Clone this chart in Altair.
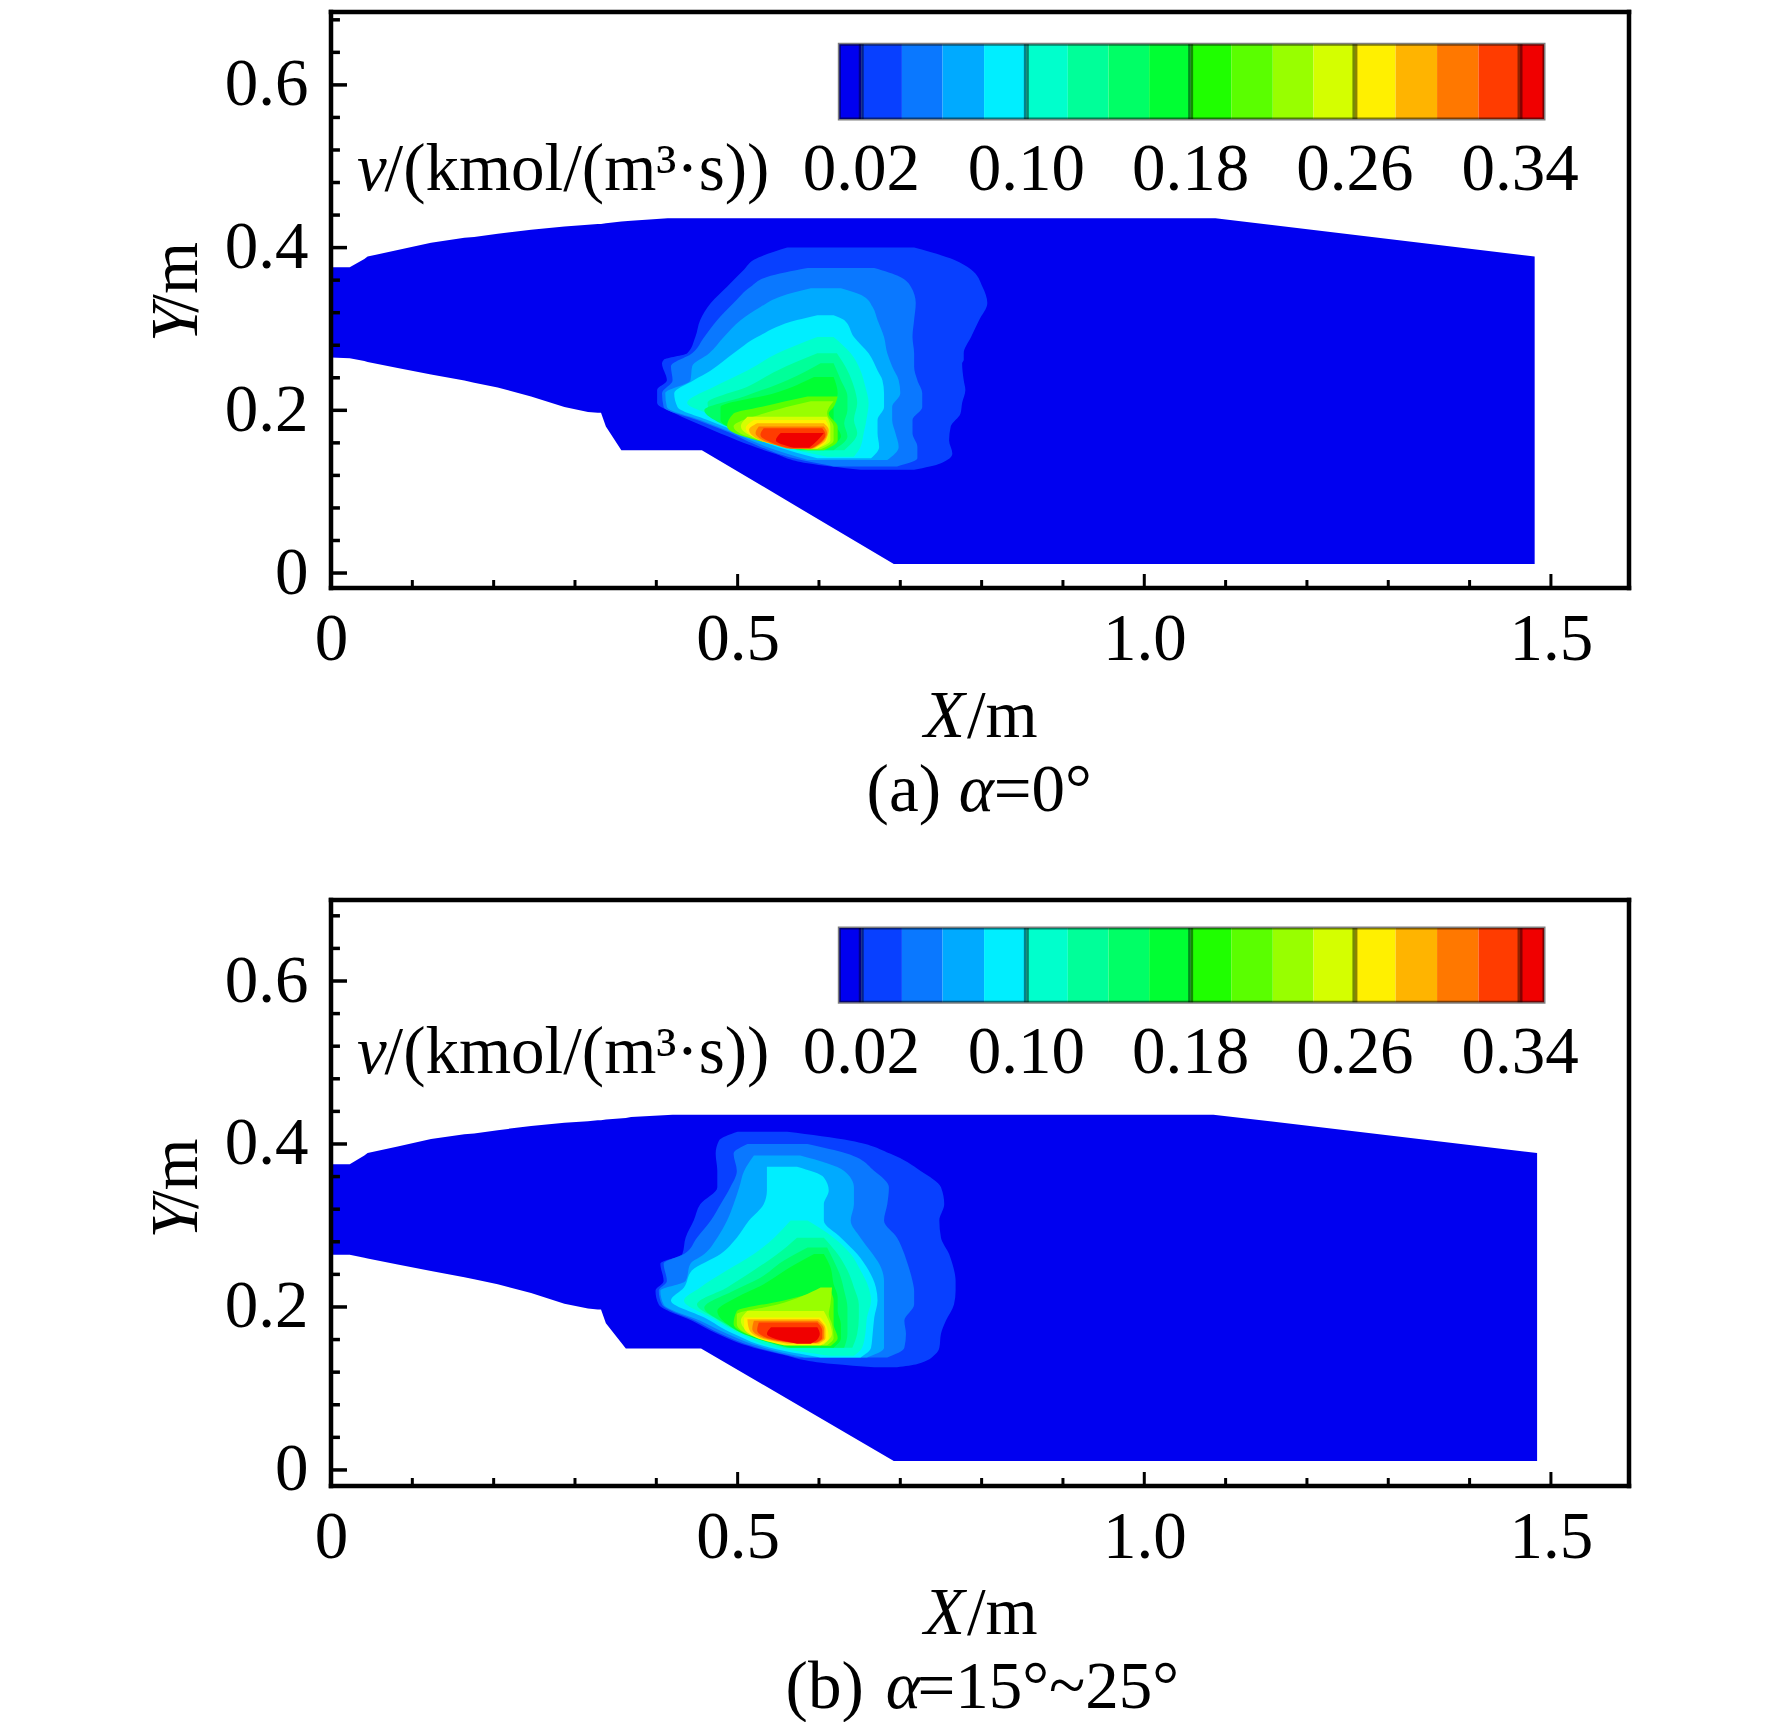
import altair as alt
import pandas as pd

FONT = "Liberation Serif"
FS = 67

# flow domain, panel (a): x, lower wall, upper wall
DOM_A_X = [0, .023, .041, .045, .082, .123, .164, .176, .205, .246, .287, .316, .328, .332, .338, .357, .369, .414, .456, .692, 1.0875, 1.48]
DOM_A_LO = [.265, .264, .2605, .2595, .252, .244, .2365, .234, .228, .217, .204, .198, .197, .197, .180, .151, .151, .151, .151, .011, .011, .011]
DOM_A_HI = [.376, .376, .386, .389, .397, .406, .412, .413, .417, .422, .426, .428, .429, .429, .430, .432, .433, .436, .436, .436, .436, .389]
# flow domain, panel (b)
DOM_B_X = [0, .023, .041, .045, .082, .123, .164, .176, .205, .246, .287, .316, .328, .332, .338, .3625, .369, .42, .455, .692, 1.085, 1.483]
DOM_B_LO = [.264, .264, .2605, .2595, .252, .244, .2365, .234, .228, .217, .204, .198, .197, .197, .180, .149, .149, .149, .149, .011, .011, .011]
DOM_B_HI = [.375, .375, .386, .389, .397, .406, .412, .413, .417, .422, .426, .428, .429, .429, .430, .432, .433, .436, .436, .436, .436, .389]

# colour bar
BAR_EDGES = [.625, .652, .702, .752, .803, .855, .906, .956, 1.006, 1.057, 1.107, 1.158, 1.208, 1.259, 1.309, 1.360, 1.411, 1.462, 1.4915]
BAR_COLORS = ["#0000f0", "#0840ff", "#0a78ff", "#00aaff", "#00eeff", "#00ffcc", "#00ff99", "#00ff66", "#00ff33",
              "#1fff00", "#5aff00", "#98ff00", "#d4ff00", "#fff000", "#ffb400", "#ff7800", "#ff3c00", "#f00000"]
BAR_TICKS = [.652, .855, 1.057, 1.259, 1.462]
BAR_LABELS = ["0.02", "0.10", "0.18", "0.26", "0.34"]

LEVEL_COLORS = BAR_COLORS[1:9] + BAR_COLORS[10:]

# contour outlines: (y, x left, x right)
A01 = [(.400,.561,.717),(.385,.520,.766),(.373,.508,.787),(.352,.487,.801),(.332,.467,.807),(.311,.454,.797),(.290,.448,.787),(.270,.438,.778),(.262,.409,.778),(.258,.407,.776),(.237,.413,.778),(.225,.401,.780),(.209,.401,.776),(.196,.423,.774),(.180,.459,.762),(.163,.500,.760),(.147,.545,.764),(.135,.586,.750),(.127,.651,.717)]
A02 = [(.375,.586,.668),(.364,.536,.700),(.352,.516,.713),(.332,.495,.719),(.311,.475,.717),(.290,.459,.715),(.270,.444,.717),(.254,.418,.717),(.237,.420,.721),(.221,.407,.727),(.204,.409,.727),(.188,.450,.715),(.172,.491,.715),(.155,.528,.721),(.141,.569,.721),(.131,.618,.696)]
A03 = [(.350,.590,.627),(.340,.553,.655),(.327,.528,.666),(.311,.504,.672),(.290,.483,.680),(.270,.465,.684),(.254,.444,.690),(.237,.442,.698),(.221,.411,.700),(.204,.413,.690),(.188,.454,.690),(.172,.495,.694),(.155,.536,.698),(.139,.586,.684)]
A04 = [(.317,.598,.618),(.311,.573,.631),(.290,.524,.643),(.270,.495,.661),(.249,.467,.672),(.237,.446,.678),(.221,.422,.680),(.204,.426,.680),(.188,.463,.672),(.172,.504,.672),(.155,.549,.674),(.141,.598,.664)]
A05 = [(.290,.598,.618),(.270,.549,.639),(.249,.512,.651),(.229,.471,.657),(.209,.438,.661),(.192,.475,.659),(.172,.516,.655),(.155,.557,.651),(.143,.610,.643)]
A06 = [(.270,.598,.622),(.249,.549,.635),(.229,.512,.643),(.209,.463,.647),(.188,.475,.643),(.172,.520,.647),(.151,.573,.631)]
A07 = [(.258,.602,.618),(.237,.561,.627),(.217,.508,.635),(.200,.459,.635),(.184,.479,.631),(.168,.520,.635),(.151,.577,.618)]
A08 = [(.241,.594,.618),(.221,.545,.623),(.204,.479,.618),(.188,.479,.618),(.168,.520,.627),(.153,.577,.610)]
A09 = [(.217,.586,.623),(.204,.528,.618),(.196,.495,.612),(.180,.487,.623),(.163,.524,.623),(.151,.586,.606)]
A10 = [(.211,.590,.618),(.196,.532,.610),(.180,.495,.618),(.163,.528,.618),(.152,.586,.602)]
A11 = [(.192,.512,.610),(.180,.504,.614),(.163,.532,.614),(.153,.577,.598)]
A12 = [(.188,.520,.608),(.178,.510,.612),(.163,.528,.610),(.153,.569,.598)]
A13 = [(.184,.524,.606),(.176,.514,.612),(.163,.528,.608),(.153,.569,.594)]
A14 = [(.180,.526,.606),(.172,.522,.610),(.161,.536,.604),(.153,.561,.592)]
A15 = [(.178,.532,.604),(.170,.528,.608),(.159,.545,.600),(.153,.565,.590)]
A16 = [(.172,.553,.606),(.163,.547,.598),(.154,.569,.588)]

B01 = [(.415,.500,.561),(.404,.477,.639),(.388,.473,.688),(.367,.475,.725),(.347,.475,.750),(.326,.454,.754),(.306,.446,.748),(.285,.436,.750),(.265,.432,.760),(.253,.405,.764),(.232,.409,.768),(.220,.399,.768),(.203,.403,.766),(.183,.444,.756),(.167,.475,.750),(.150,.520,.748),(.142,.553,.743),(.130,.618,.721),(.126,.668,.696)]
B02 = [(.400,.512,.586),(.388,.495,.635),(.367,.499,.668),(.347,.491,.686),(.326,.479,.684),(.306,.467,.680),(.285,.450,.696),(.265,.434,.705),(.253,.409,.709),(.232,.413,.715),(.220,.403,.717),(.203,.407,.717),(.183,.448,.705),(.167,.479,.707),(.150,.524,.705),(.138,.573,.684)]
B03 = [(.386,.520,.577),(.367,.508,.631),(.347,.502,.643),(.326,.495,.643),(.306,.487,.639),(.285,.475,.651),(.265,.459,.666),(.253,.442,.674),(.232,.436,.680),(.220,.405,.680),(.203,.409,.680),(.183,.454,.680),(.167,.487,.680),(.150,.532,.680),(.138,.582,.659)]
B04 = [(.372,.536,.573),(.359,.536,.606),(.343,.536,.612),(.326,.532,.606),(.306,.514,.606),(.285,.499,.627),(.265,.479,.647),(.245,.444,.661),(.224,.434,.670),(.208,.418,.672),(.187,.459,.668),(.167,.495,.666),(.150,.540,.664),(.138,.602,.651)]
B05 = [(.306,.565,.586),(.285,.545,.618),(.265,.520,.639),(.245,.487,.651),(.224,.454,.661),(.208,.434,.664),(.187,.467,.659),(.167,.504,.657),(.150,.549,.653),(.140,.614,.643)]
B06 = [(.285,.573,.606),(.265,.549,.623),(.245,.520,.635),(.224,.487,.643),(.203,.450,.649),(.187,.471,.649),(.167,.508,.647),(.150,.557,.641)]
B07 = [(.273,.586,.610),(.257,.557,.618),(.236,.528,.627),(.220,.495,.631),(.199,.459,.635),(.183,.479,.635),(.167,.512,.635),(.150,.561,.631)]
B08 = [(.265,.594,.606),(.249,.565,.614),(.228,.532,.618),(.212,.499,.623),(.195,.475,.623),(.179,.487,.627),(.162,.520,.627),(.150,.565,.618)]
B09 = [(.220,.602,.614),(.208,.557,.618),(.195,.499,.618),(.179,.495,.618),(.162,.524,.623),(.152,.561,.614)]
B10 = [(.224,.602,.616),(.203,.549,.614),(.191,.499,.612),(.179,.499,.616),(.162,.524,.618),(.153,.565,.610)]
B11 = [(.195,.512,.606),(.183,.504,.612),(.167,.516,.616),(.154,.561,.606)]
B12 = [(.187,.508,.602),(.175,.508,.610),(.162,.524,.612),(.153,.557,.602)]
B13 = [(.185,.512,.600),(.173,.514,.608),(.162,.528,.608),(.155,.561,.600)]
B14 = [(.183,.520,.598),(.173,.518,.606),(.162,.532,.606),(.156,.565,.598)]
B15 = [(.181,.526,.598),(.171,.524,.604),(.162,.536,.604),(.156,.569,.596)]
B16 = [(.175,.541,.598),(.167,.536,.601),(.160,.549,.598),(.155,.573,.590)]

LEVELS_A = [A01,A02,A03,A04,A05,A06,A07,A08,A09,A10,A11,A12,A13,A14,A15,A16]
LEVELS_B = [B01,B02,B03,B04,B05,B06,B07,B08,B09,B10,B11,B12,B13,B14,B15,B16]

X_MAJOR = [0, .5, 1.0, 1.5]
X_MINOR = [.1, .2, .3, .4, .6, .7, .8, .9, 1.1, 1.2, 1.3, 1.4]
Y_MAJOR = [0, .2, .4, .6]
Y_MINOR = [.04, .08, .12, .16, .24, .28, .32, .36, .44, .48, .52, .56, .64, .68]
X_DOMAIN = [0, 1.596]


def panel(dom_x, dom_lo, dom_hi, levels, y_domain, caption, bar_y, label_y, height):
    ymin, ymax = y_domain
    sx = alt.Scale(domain=X_DOMAIN, nice=False, zero=False)
    sy = alt.Scale(domain=y_domain, nice=False, zero=False)
    ex = lambda f="x", **k: alt.X(f, type="quantitative", scale=sx, title=None, **k)
    ey = lambda f="y", **k: alt.Y(f, type="quantitative", scale=sy, title=None, **k)

    layers = []
    dom = pd.DataFrame({"x": dom_x, "y": dom_lo, "y2": dom_hi})
    layers.append(alt.Chart(dom).mark_area(color="#0000f0").encode(
        x=ex(axis=alt.Axis(values=X_MAJOR, ticks=False, domain=False, grid=False,
                           labelFont=FONT, labelFontSize=FS, labelColor="black", labelPadding=18,
                           labelFlush=False, labelOverlap=False, labelBound=False,
                           labelExpr="datum.value == 0 ? '0' : format(datum.value, '.1f')")),
        y=ey(axis=alt.Axis(values=Y_MAJOR, ticks=False, domain=False, grid=False,
                           labelFont=FONT, labelFontSize=FS, labelColor="black", labelPadding=23,
                           labelFlush=False, labelOverlap=False, labelBound=False,
                           labelExpr="datum.value == 0 ? '0' : format(datum.value, '.1f')")),
        y2="y2:Q"))

    for rows, color in zip(levels, LEVEL_COLORS):
        df = pd.DataFrame(rows, columns=["y", "xl", "xr"])
        layers.append(alt.Chart(df).mark_area(color=color, orient="horizontal", interpolate="monotone").encode(
            x=ex("xl"), x2="xr:Q", y=ey()))

    b0, b1 = bar_y
    bar = pd.DataFrame({"x": BAR_EDGES[:-1], "x2": BAR_EDGES[1:], "c": BAR_COLORS,
                        "y": [b0] * len(BAR_COLORS), "y2": [b1] * len(BAR_COLORS)})
    layers.append(alt.Chart(bar).mark_rect().encode(
        x=ex(), x2="x2:Q", y=ey(), y2="y2:Q", color=alt.Color("c:N", scale=None)))
    dividers = pd.DataFrame({"x": BAR_TICKS, "y": [b0] * 5, "y2": [b1] * 5})
    layers.append(alt.Chart(dividers).mark_rule(color="black", opacity=.45, strokeWidth=5).encode(
        x=ex(), y=ey(), y2="y2:Q"))
    outline = pd.DataFrame({"x": [BAR_EDGES[0]], "x2": [BAR_EDGES[-1]], "y": [b0], "y2": [b1]})
    layers.append(alt.Chart(outline).mark_rect(fillOpacity=0, stroke="black", strokeOpacity=.5, strokeWidth=3).encode(
        x=ex(), x2="x2:Q", y=ey(), y2="y2:Q"))

    def text(x, y, s, align="left", italic=False, angle=0):
        df = pd.DataFrame({"x": [x], "y": [y], "s": [s]})
        return alt.Chart(df).mark_text(font=FONT, fontSize=FS, color="black", align=align, baseline="alphabetic",
                                       fontStyle="italic" if italic else "normal", angle=angle).encode(
            x=ex(), y=ey(), text="s:N")

    layers.append(text(.032, label_y, "v", italic=True))
    layers.append(text(.539, label_y, "/(kmol/(m³·s))", align="right"))
    for tx, lab in zip(BAR_TICKS, BAR_LABELS):
        layers.append(text(tx, label_y, lab, align="center"))

    layers.append(text(-.165, .284, "Y", italic=True, angle=270))
    layers.append(text(-.165, .407, "/m", align="right", angle=270))
    layers.append(text(.729, -.201, "X", italic=True))
    layers.append(text(.869, -.201, "/m", align="right"))
    for piece in caption:
        layers.append(text(*piece))

    # inward ticks and frame
    def vticks(xs, length):
        df = pd.DataFrame({"x": xs, "y": [ymin] * len(xs), "y2": [ymin + length] * len(xs)})
        return alt.Chart(df).mark_rule(color="black", strokeWidth=3).encode(x=ex(), y=ey(), y2="y2:Q")

    def hticks(ys, length):
        df = pd.DataFrame({"y": ys, "x": [0] * len(ys), "x2": [length] * len(ys)})
        return alt.Chart(df).mark_rule(color="black", strokeWidth=3.5).encode(y=ey(), x=ex(), x2="x2:Q")

    layers += [vticks(X_MAJOR[1:], .0172), vticks(X_MINOR, .0098), hticks(Y_MAJOR, .0197), hticks(Y_MINOR, .011)]

    frame_v = pd.DataFrame({"x": X_DOMAIN, "y": [ymin, ymin], "y2": [ymax, ymax]})
    frame_h = pd.DataFrame({"y": y_domain, "x": [0, 0], "x2": [X_DOMAIN[1]] * 2})
    layers.append(alt.Chart(frame_v).mark_rule(color="black", strokeWidth=4.5, strokeCap="square").encode(
        x=ex(), y=ey(), y2="y2:Q"))
    layers.append(alt.Chart(frame_h).mark_rule(color="black", strokeWidth=4.5, strokeCap="square").encode(
        y=ey(), x=ex(), x2="x2:Q"))

    return alt.layer(*layers).properties(width=1298, height=height)


caption_a = [(.75, -.2925, "(a)", "right"), (.772, -.2925, "α", "left", True), (.815, -.2925, "=0°")]
caption_b = [(.655, -.2925, "(b)", "right"), (.682, -.2925, "α", "left", True), (.721, -.2925, "=15°~25°")]

chart = alt.vconcat(
    panel(DOM_A_X, DOM_A_LO, DOM_A_HI, LEVELS_A, [-.0184, .6896], caption_a, [.558, .650], .471, 576),
    panel(DOM_B_X, DOM_B_LO, DOM_B_HI, LEVELS_B, [-.0197, .6994], caption_b, [.574, .665], .4875, 586),
    spacing=312, bounds="flush",
).properties(padding={"left": 134, "top": 0, "right": 0, "bottom": 0}, background="white"
).configure_view(stroke=None)

chart.save("out.html", embed_options={"renderer": "svg", "actions": False})
